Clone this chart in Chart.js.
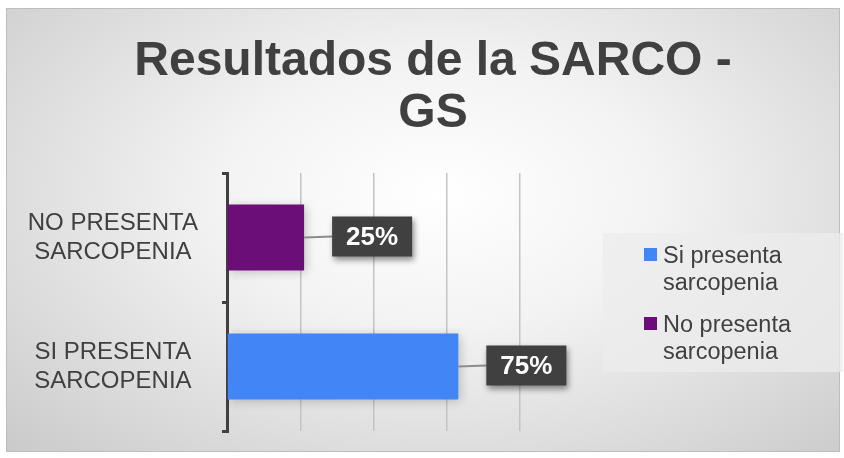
<!DOCTYPE html>
<html>
<head>
<meta charset="utf-8">
<script src="https://cdn.jsdelivr.net/npm/chart.js@4/dist/chart.umd.min.js"></script>
<style>
  body { margin: 0; background: #fff; }
  #card {
    position: absolute; left: 6px; top: 8px; width: 834px; height: 444px;
    background: radial-gradient(ellipse 75% 85% at 52% 42%, #ffffff 0%, #f3f3f3 35%, #d9d9d9 75%, #c8c8c8 100%);
    border: 1px solid #bdbdbd; box-sizing: border-box;
  }
  #card canvas { position: absolute; left: 0; top: 0; }
  #title {
    position: absolute; left: 18px; top: 24px; width: 816px; text-align: center;
    font-family: "Liberation Sans", Arial, sans-serif; font-weight: bold; font-size: 48px;
    line-height: 52px; color: #404040;
  }
  #legend {
    position: absolute; left: 596px; top: 224px; width: 240px; height: 139px;
    background: rgba(236,236,236,0.75); box-sizing: border-box; padding: 9px 0 0 41px;
    font-family: "Liberation Sans", Arial, sans-serif; font-size: 23.5px; color: #404040;
  }
  .item { display: flex; align-items: flex-start; margin-bottom: 16px; line-height: 26.5px; }
  .sw { width: 13px; height: 13px; margin: 6px 6px 0 0; flex: none; }
  .txt { width: 140px; }
</style>
</head>
<body>
<div id="card">
  <canvas id="chart" width="834" height="444"></canvas>
  <div id="title"></div>
  <div id="legend"></div>
</div>
<script>
const titleLines = ["Resultados de la SARCO -", "GS"];
const categories = [["NO PRESENTA", "SARCOPENIA"], ["SI PRESENTA", "SARCOPENIA"]];
const seriesNames = ["Si presenta sarcopenia", "No presenta sarcopenia"];
const siValues = [null, 75];
const noValues = [25, null];
const valueLabels = ["25%", "75%"];

const textColor = "#404040";

// callout boxes with a leader line, like the office-style data labels
const calloutPlugin = {
  id: "callouts",
  afterDatasetsDraw(chart) {
    const ctx = chart.ctx;
    chart.data.datasets.forEach((ds, di) => {
      chart.getDatasetMeta(di).data.forEach((bar, i) => {
        if (ds.data[i] == null) return;
        const text = valueLabels[i];
        ctx.save();
        ctx.font = "bold 26px 'Liberation Sans', Arial, sans-serif";
        const w = ctx.measureText(text).width + 28;
        const h = 40;
        const x0 = bar.x + 28;
        const y0 = bar.y - h / 2 - 1;
        ctx.strokeStyle = "#8c8c8c";
        ctx.lineWidth = 2;
        ctx.beginPath();
        ctx.moveTo(bar.x, bar.y);
        ctx.lineTo(x0, bar.y - 1);
        ctx.stroke();
        ctx.shadowColor = "rgba(0,0,0,0.45)";
        ctx.shadowBlur = 6;
        ctx.shadowOffsetX = 2;
        ctx.shadowOffsetY = 3;
        ctx.fillStyle = "#404040";
        ctx.fillRect(x0, y0, w, h);
        ctx.shadowColor = "transparent";
        ctx.fillStyle = "#ffffff";
        ctx.textAlign = "center";
        ctx.textBaseline = "middle";
        ctx.fillText(text, x0 + w / 2, y0 + h / 2 + 1);
        ctx.restore();
      });
    });
  }
};

const shadowPlugin = {
  id: "barShadow",
  beforeDatasetsDraw(chart) {
    const ctx = chart.ctx;
    ctx.save();
    ctx.shadowColor = "rgba(0,0,0,0.22)";
    ctx.shadowBlur = 10;
    ctx.shadowOffsetX = 2;
    ctx.shadowOffsetY = 2;
  },
  afterDatasetsDraw(chart) {
    chart.ctx.restore();
  }
};

document.getElementById("title").innerHTML = titleLines.join("<br>");

const chart = new Chart(document.getElementById("chart"), {
  type: "bar",
  data: {
    labels: categories,
    datasets: [
      { label: seriesNames[0], data: siValues, backgroundColor: "#4285f4" },
      { label: seriesNames[1], data: noValues, backgroundColor: "#6b0e77" }
    ]
  },
  options: {
    indexAxis: "y",
    responsive: false,
    animation: false,
    grouped: false,
    barPercentage: 0.51,
    categoryPercentage: 1,
    layout: { padding: { left: 0, right: 321, bottom: 22, top: 164 } },
    plugins: {
      legend: { display: false },
      tooltip: { enabled: false },
      title: { display: false }
    },
    scales: {
      x: {
        min: 0,
        max: 95,
        afterFit(scale) { scale.height = 0; },
        ticks: { display: false, stepSize: 23.75 },
        grid: { color: "#c4c4c4", lineWidth: 1.5, drawTicks: false },
        border: { display: false }
      },
      y: {
        afterFit(scale) {
          scale.width = 220;
          scale.paddingTop = 0;
          scale.paddingBottom = 0;
        },
        ticks: {
          color: textColor,
          crossAlign: "center",
          padding: 24,
          font: { family: "'Liberation Sans', Arial, sans-serif", size: 24 },
        },
        grid: { drawOnChartArea: false, drawTicks: true, tickLength: 5, color: textColor, lineWidth: 3 },
        border: { display: true, color: textColor, width: 3 }
      }
    }
  },
  plugins: [shadowPlugin, calloutPlugin]
});

// legend built from the datasets, text wraps like the original
const legendEl = document.getElementById("legend");
chart.data.datasets.forEach(ds => {
  const item = document.createElement("div");
  item.className = "item";
  item.innerHTML = '<span class="sw" style="background:' + ds.backgroundColor + '"></span><span class="txt">' + ds.label + "</span>";
  legendEl.appendChild(item);
});
</script>
</body>
</html>
